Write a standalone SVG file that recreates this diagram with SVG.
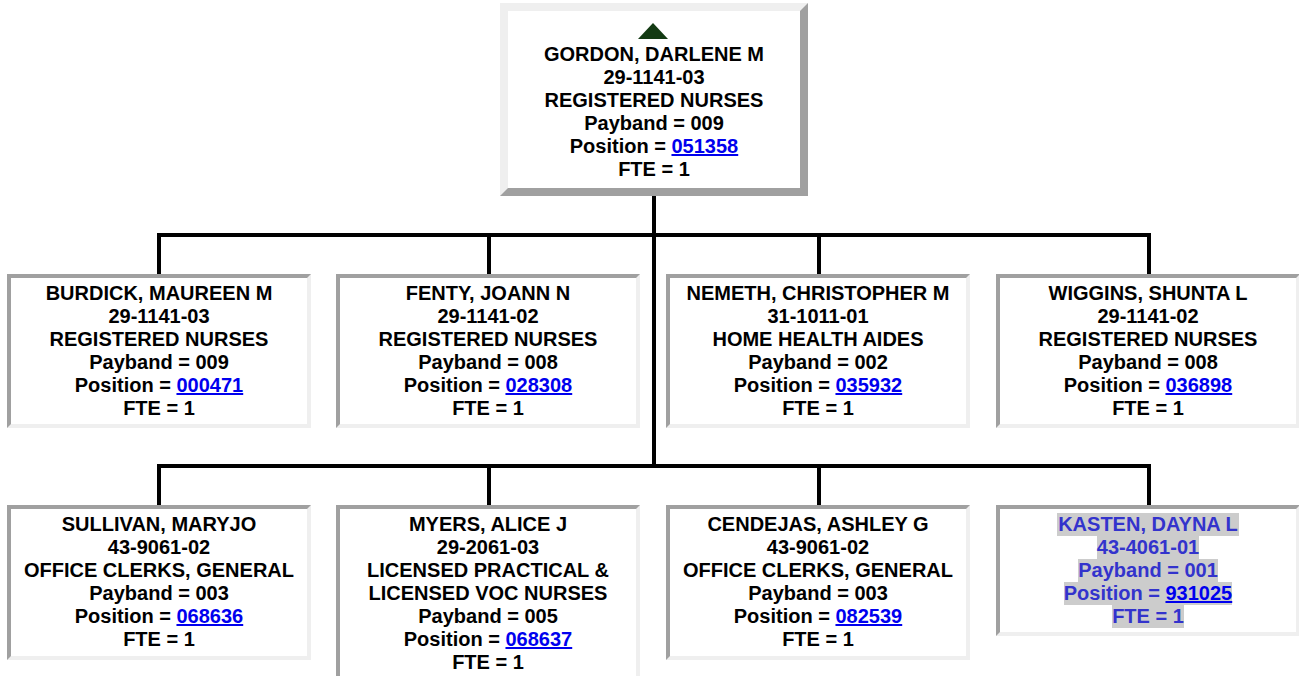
<svg xmlns="http://www.w3.org/2000/svg" width="1299" height="676" viewBox="0 0 1299 676">
<style>
.t { font-family: "Liberation Sans", Arial, Helvetica, sans-serif; font-size: 20px; font-weight: bold; text-anchor: middle; fill: #000; }
.lnk { fill: #0000ee; text-decoration: underline; }
.k { fill: #3333cc; }
.hl { fill: #cccccc; }
.dk { fill: #a0a0a0; }
.lt { fill: #efefef; }
.in { fill: #ffffff; }
.conn { stroke: #000; stroke-width: 4; fill: none; }
</style>
<rect x="0" y="0" width="1299" height="676" fill="#ffffff"/>
<g id="connectors">
<path class="conn" d="M654 196 V466"/>
<path class="conn" d="M157 235 H1151"/>
<path class="conn" d="M159 235 V274 M489 235 V274 M819 235 V274 M1149 235 V274"/>
<path class="conn" d="M157 466 H1151"/>
<path class="conn" d="M159 466 V505 M489 466 V505 M819 466 V505 M1149 466 V505"/>
</g>
<g id="node-gordon">
<rect class="dk" x="500" y="3" width="308" height="193"/>
<polygon class="lt" points="500,3 808,3 800,11 508,11 508,188 500,196"/>
<rect class="in" x="508" y="11" width="292" height="177"/>
<polygon points="653,23 668,39 638,39" fill="#133a13"/>
<text class="t" x="654" y="61">GORDON, DARLENE M</text>
<text class="t" x="654" y="84">29-1141-03</text>
<text class="t" x="654" y="107">REGISTERED NURSES</text>
<text class="t" x="654" y="130">Payband = 009</text>
<text class="t" x="654" y="153">Position = <tspan class="lnk">051358</tspan></text>
<text class="t" x="654" y="176">FTE = 1</text>
</g>
<g id="node-burdick">
<rect class="lt" x="7" y="274" width="304" height="154"/>
<polygon class="dk" points="7,274 311,274 307,278 11,278 11,424 7,428"/>
<rect class="in" x="11" y="278" width="296" height="146"/>
<text class="t" x="159" y="300">BURDICK, MAUREEN M</text>
<text class="t" x="159" y="323">29-1141-03</text>
<text class="t" x="159" y="346">REGISTERED NURSES</text>
<text class="t" x="159" y="369">Payband = 009</text>
<text class="t" x="159" y="392">Position = <tspan class="lnk">000471</tspan></text>
<text class="t" x="159" y="415">FTE = 1</text>
</g>
<g id="node-fenty">
<rect class="lt" x="336" y="274" width="304" height="154"/>
<polygon class="dk" points="336,274 640,274 636,278 340,278 340,424 336,428"/>
<rect class="in" x="340" y="278" width="296" height="146"/>
<text class="t" x="488" y="300">FENTY, JOANN N</text>
<text class="t" x="488" y="323">29-1141-02</text>
<text class="t" x="488" y="346">REGISTERED NURSES</text>
<text class="t" x="488" y="369">Payband = 008</text>
<text class="t" x="488" y="392">Position = <tspan class="lnk">028308</tspan></text>
<text class="t" x="488" y="415">FTE = 1</text>
</g>
<g id="node-nemeth">
<rect class="lt" x="666" y="274" width="304" height="154"/>
<polygon class="dk" points="666,274 970,274 966,278 670,278 670,424 666,428"/>
<rect class="in" x="670" y="278" width="296" height="146"/>
<text class="t" x="818" y="300">NEMETH, CHRISTOPHER M</text>
<text class="t" x="818" y="323">31-1011-01</text>
<text class="t" x="818" y="346">HOME HEALTH AIDES</text>
<text class="t" x="818" y="369">Payband = 002</text>
<text class="t" x="818" y="392">Position = <tspan class="lnk">035932</tspan></text>
<text class="t" x="818" y="415">FTE = 1</text>
</g>
<g id="node-wiggins">
<rect class="lt" x="996" y="274" width="304" height="154"/>
<polygon class="dk" points="996,274 1300,274 1296,278 1000,278 1000,424 996,428"/>
<rect class="in" x="1000" y="278" width="296" height="146"/>
<text class="t" x="1148" y="300">WIGGINS, SHUNTA L</text>
<text class="t" x="1148" y="323">29-1141-02</text>
<text class="t" x="1148" y="346">REGISTERED NURSES</text>
<text class="t" x="1148" y="369">Payband = 008</text>
<text class="t" x="1148" y="392">Position = <tspan class="lnk">036898</tspan></text>
<text class="t" x="1148" y="415">FTE = 1</text>
</g>
<g id="node-sullivan">
<rect class="lt" x="7" y="505" width="304" height="155"/>
<polygon class="dk" points="7,505 311,505 307,509 11,509 11,656 7,660"/>
<rect class="in" x="11" y="509" width="296" height="147"/>
<text class="t" x="159" y="531">SULLIVAN, MARYJO</text>
<text class="t" x="159" y="554">43-9061-02</text>
<text class="t" x="159" y="577">OFFICE CLERKS, GENERAL</text>
<text class="t" x="159" y="600">Payband = 003</text>
<text class="t" x="159" y="623">Position = <tspan class="lnk">068636</tspan></text>
<text class="t" x="159" y="646">FTE = 1</text>
</g>
<g id="node-myers">
<rect class="lt" x="336" y="505" width="304" height="179"/>
<polygon class="dk" points="336,505 640,505 636,509 340,509 340,680 336,684"/>
<rect class="in" x="340" y="509" width="296" height="171"/>
<text class="t" x="488" y="531">MYERS, ALICE J</text>
<text class="t" x="488" y="554">29-2061-03</text>
<text class="t" x="488" y="577">LICENSED PRACTICAL &amp;</text>
<text class="t" x="488" y="600">LICENSED VOC NURSES</text>
<text class="t" x="488" y="623">Payband = 005</text>
<text class="t" x="488" y="646">Position = <tspan class="lnk">068637</tspan></text>
<text class="t" x="488" y="669">FTE = 1</text>
</g>
<g id="node-cendejas">
<rect class="lt" x="666" y="505" width="304" height="155"/>
<polygon class="dk" points="666,505 970,505 966,509 670,509 670,656 666,660"/>
<rect class="in" x="670" y="509" width="296" height="147"/>
<text class="t" x="818" y="531">CENDEJAS, ASHLEY G</text>
<text class="t" x="818" y="554">43-9061-02</text>
<text class="t" x="818" y="577">OFFICE CLERKS, GENERAL</text>
<text class="t" x="818" y="600">Payband = 003</text>
<text class="t" x="818" y="623">Position = <tspan class="lnk">082539</tspan></text>
<text class="t" x="818" y="646">FTE = 1</text>
</g>
<g id="node-kasten">
<rect class="lt" x="996" y="505" width="304" height="131"/>
<polygon class="dk" points="996,505 1300,505 1296,509 1000,509 1000,632 996,636"/>
<rect class="in" x="1000" y="509" width="296" height="123"/>
<rect class="hl" x="1057" y="513" width="182" height="23"/>
<rect class="hl" x="1097" y="536" width="102" height="23"/>
<rect class="hl" x="1078" y="559" width="140" height="23"/>
<rect class="hl" x="1064" y="582" width="168" height="23"/>
<rect class="hl" x="1112" y="605" width="72" height="23"/>
<text class="t k" x="1148" y="531">KASTEN, DAYNA L</text>
<text class="t k" x="1148" y="554">43-4061-01</text>
<text class="t k" x="1148" y="577">Payband = 001</text>
<text class="t k" x="1148" y="600">Position = <tspan class="lnk">931025</tspan></text>
<text class="t k" x="1148" y="623">FTE = 1</text>
</g>
</svg>
